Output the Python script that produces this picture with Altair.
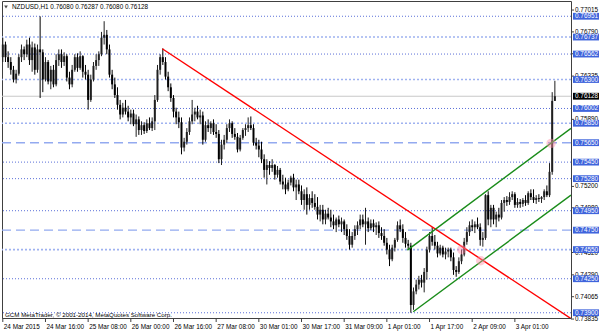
import altair as alt
import pandas as pd

# ---- candle data (pips, divide by 10000) ----
opens = [7653, 7666, 7653, 7648, 7640, 7630, 7636, 7653, 7661, 7656,
         7666, 7650, 7663, 7640, 7661, 7658, 7630, 7648, 7628, 7640,
         7625, 7650, 7656, 7648, 7654, 7632, 7625, 7640, 7653, 7642,
         7654, 7638, 7635, 7609, 7630, 7644, 7650, 7656, 7673, 7676,
         7661, 7635, 7625, 7614, 7604, 7594, 7601, 7597, 7591, 7595,
         7584, 7589, 7578, 7583, 7577, 7585, 7580, 7587, 7609, 7640,
         7653, 7648, 7633, 7622, 7611, 7597, 7591, 7586, 7560, 7566,
         7576, 7587, 7594, 7597, 7591, 7593, 7568, 7583, 7580, 7585,
         7576, 7574, 7548, 7563, 7568, 7580, 7585, 7574, 7571, 7558,
         7570, 7578, 7580, 7583, 7580, 7565, 7562, 7558, 7548, 7537,
         7542, 7539, 7542, 7532, 7537, 7525, 7522, 7517, 7524, 7529,
         7519, 7522, 7515, 7506, 7512, 7501, 7508, 7503, 7499, 7491,
         7496, 7486, 7492, 7488, 7484, 7480, 7486, 7481, 7484, 7476,
         7469, 7460, 7469, 7476, 7480, 7486, 7481, 7484, 7477, 7482,
         7478, 7480, 7472, 7469, 7462, 7455, 7445, 7457, 7465, 7480,
         7476, 7467, 7461, 7459, 7398, 7412, 7419, 7424, 7421, 7432,
         7455, 7469, 7463, 7459, 7451, 7457, 7450, 7453, 7455, 7447,
         7434, 7432, 7443, 7450, 7463, 7473, 7480, 7478, 7481, 7478,
         7465, 7467, 7511, 7486, 7498, 7486, 7491, 7488, 7503, 7506,
         7504, 7509, 7512, 7501, 7504, 7502, 7506, 7503, 7513, 7509,
         7506, 7508, 7507, 7509, 7515, 7511, 7535, 7608]
highs = [7673, 7669, 7659, 7653, 7644, 7640, 7656, 7666, 7664, 7671,
         7673, 7669, 7667, 7666, 7695, 7661, 7653, 7650, 7644, 7645,
         7656, 7661, 7661, 7658, 7656, 7638, 7645, 7656, 7657, 7659,
         7655, 7645, 7640, 7635, 7648, 7656, 7659, 7679, 7690, 7681,
         7666, 7640, 7632, 7622, 7609, 7606, 7609, 7603, 7599, 7599,
         7594, 7592, 7587, 7586, 7589, 7591, 7591, 7614, 7645, 7656,
         7662, 7653, 7638, 7626, 7614, 7601, 7597, 7591, 7570, 7580,
         7591, 7609, 7601, 7603, 7599, 7597, 7587, 7589, 7587, 7589,
         7584, 7578, 7568, 7573, 7584, 7589, 7587, 7580, 7575, 7573,
         7580, 7584, 7591, 7592, 7584, 7570, 7568, 7566, 7553, 7548,
         7546, 7548, 7543, 7541, 7539, 7532, 7529, 7527, 7531, 7533,
         7527, 7527, 7521, 7517, 7519, 7512, 7515, 7512, 7509, 7501,
         7501, 7496, 7498, 7496, 7491, 7488, 7490, 7488, 7486, 7481,
         7476, 7473, 7480, 7484, 7491, 7491, 7498, 7488, 7486, 7486,
         7483, 7484, 7478, 7476, 7467, 7460, 7460, 7467, 7484, 7486,
         7481, 7473, 7465, 7462, 7416, 7424, 7428, 7429, 7436, 7458,
         7473, 7478, 7470, 7463, 7460, 7459, 7457, 7457, 7457, 7452,
         7438, 7447, 7455, 7467, 7478, 7484, 7486, 7484, 7488, 7482,
         7473, 7512, 7515, 7501, 7501, 7494, 7498, 7506, 7509, 7510,
         7514, 7515, 7514, 7508, 7507, 7508, 7511, 7515, 7517, 7517,
         7511, 7512, 7510, 7517, 7521, 7544, 7617, 7628.7]
lows = [7648, 7648, 7642, 7635, 7627, 7626, 7634, 7648, 7650, 7653,
        7645, 7638, 7635, 7637, 7611, 7617, 7628, 7625, 7620, 7622,
        7623, 7644, 7642, 7644, 7628, 7620, 7622, 7638, 7638, 7640,
        7632, 7630, 7599, 7607, 7628, 7640, 7644, 7654, 7666, 7656,
        7632, 7620, 7611, 7599, 7589, 7591, 7594, 7587, 7584, 7582,
        7571, 7573, 7573, 7574, 7575, 7578, 7577, 7578, 7607, 7635,
        7645, 7630, 7618, 7607, 7591, 7584, 7580, 7553, 7556, 7563,
        7573, 7584, 7587, 7589, 7584, 7563, 7566, 7576, 7574, 7573,
        7570, 7544, 7542, 7558, 7565, 7576, 7570, 7568, 7555, 7556,
        7568, 7572, 7576, 7578, 7562, 7558, 7550, 7544, 7529, 7522,
        7532, 7535, 7527, 7529, 7522, 7517, 7512, 7515, 7521, 7515,
        7506, 7512, 7501, 7496, 7491, 7496, 7498, 7496, 7486, 7484,
        7481, 7481, 7486, 7478, 7476, 7473, 7478, 7473, 7470, 7465,
        7455, 7457, 7465, 7470, 7476, 7478, 7460, 7473, 7475, 7473,
        7470, 7467, 7465, 7459, 7450, 7438, 7443, 7453, 7463, 7473,
        7462, 7457, 7455, 7390, 7393, 7409, 7414, 7416, 7411, 7424,
        7452, 7459, 7455, 7447, 7449, 7447, 7445, 7447, 7443, 7429,
        7427, 7430, 7440, 7448, 7460, 7469, 7474, 7472, 7476, 7459,
        7458, 7465, 7480, 7478, 7481, 7478, 7484, 7486, 7494, 7500,
        7501, 7506, 7498, 7498, 7498, 7499, 7500, 7501, 7506, 7503,
        7502, 7504, 7503, 7506, 7509, 7509, 7532, 7608]
closes = [7666, 7653, 7648, 7640, 7630, 7636, 7653, 7661, 7656, 7666,
          7650, 7663, 7640, 7661, 7658, 7630, 7648, 7628, 7640, 7625,
          7650, 7656, 7648, 7654, 7632, 7625, 7640, 7653, 7642, 7654,
          7638, 7635, 7609, 7630, 7644, 7650, 7656, 7673, 7676, 7661,
          7635, 7625, 7614, 7604, 7594, 7601, 7597, 7591, 7595, 7584,
          7589, 7578, 7583, 7577, 7585, 7580, 7587, 7609, 7640, 7653,
          7648, 7633, 7622, 7611, 7597, 7591, 7586, 7560, 7566, 7576,
          7587, 7594, 7597, 7591, 7593, 7568, 7583, 7580, 7585, 7576,
          7574, 7548, 7563, 7568, 7580, 7585, 7574, 7571, 7558, 7570,
          7578, 7580, 7583, 7580, 7565, 7562, 7558, 7548, 7537, 7542,
          7539, 7542, 7532, 7537, 7525, 7522, 7517, 7524, 7529, 7519,
          7522, 7515, 7506, 7512, 7501, 7508, 7503, 7499, 7491, 7496,
          7486, 7492, 7488, 7484, 7480, 7486, 7481, 7484, 7476, 7469,
          7460, 7469, 7476, 7480, 7486, 7481, 7484, 7477, 7482, 7478,
          7480, 7472, 7469, 7462, 7455, 7445, 7457, 7465, 7480, 7476,
          7467, 7461, 7459, 7398, 7412, 7419, 7424, 7421, 7432, 7455,
          7469, 7463, 7459, 7451, 7457, 7450, 7453, 7455, 7447, 7434,
          7432, 7443, 7450, 7463, 7473, 7480, 7478, 7481, 7478, 7465,
          7467, 7511, 7486, 7498, 7486, 7491, 7488, 7503, 7506, 7504,
          7509, 7512, 7501, 7504, 7502, 7506, 7503, 7513, 7509, 7506,
          7508, 7507, 7509, 7515, 7511, 7535, 7608, 7612.8]

# ---- horizontal levels ----
levels_dotted = [0.76951, 0.76562, 0.76002, 0.75450, 0.75280, 0.74950, 0.74250, 0.73900]
levels_light = [0.76737, 0.76300, 0.75850, 0.74550]
levels_dashed = [0.75650, 0.74750]
current_price = 0.76128

# ---- price axis labels (those not fully hidden behind level boxes) ----
axis_prices = [0.77015, 0.76790, 0.76565, 0.76335, 0.75890,
               0.75200, 0.74980, 0.74520, 0.74290, 0.74065, 0.73835]

# ---- time axis labels (bar index) ----
time_idx = [0, 16, 32, 48, 64, 80, 96, 112, 128, 144, 160, 176, 192]
time_lbl = ["24 Mar 2015", "24 Mar 16:00", "25 Mar 08:00", "26 Mar 00:00", "26 Mar 16:00",
            "27 Mar 08:00", "30 Mar 01:00", "30 Mar 17:00", "31 Mar 09:00", "1 Apr 01:00",
            "1 Apr 17:00", "2 Apr 09:00", "3 Apr 01:00"]

# ---- drawn objects (bar index, price) ----
red_i = [59.8, 213.05]
red_p = [0.76617, 0.73840]
green_up_i = [151.7, 213.05]
green_up_p = [0.74545, 0.75798]
green_lo_i = [153.9, 213.05]
green_lo_p = [0.73910, 0.75110]
alert_i = [172.1, 179.2, 205.6]
alert_p = [0.74550, 0.74435, 0.75643]

title_text = "NZDUSD,H1  0.76080 0.76287 0.76080 0.76128"
copyright_text = "GCM MetaTrader, \u00a9 2001-2014, MetaQuotes Software Corp."

FONT = "Liberation Sans"
W, H = 569, 317

xs = alt.Scale(domain=[-0.3, 213.05], nice=False, zero=False)
ys = alt.Scale(domain=[0.73846, 0.77108], nice=False, zero=False)

c = pd.DataFrame({"i": list(range(len(opens))),
                  "o": [v / 10000 for v in opens], "h": [v / 10000 for v in highs],
                  "l": [v / 10000 for v in lows], "c": [v / 10000 for v in closes]})
c["dir"] = ["up" if cc >= oo else "down" for oo, cc in zip(c["o"], c["c"])]

X = lambda f: alt.X(f, scale=xs, axis=None)
Y = lambda f: alt.Y(f, scale=ys, axis=None)

def hlines(vals, color, dash, width):
    return alt.Chart(pd.DataFrame({"p": vals})).mark_rule(
        color=color, strokeDash=dash, strokeWidth=width).encode(y=Y("p:Q"))

lv_dot = hlines(levels_dotted, "#5b70d8", [1, 2], 1)
lv_light = hlines(levels_light, "#9fb2f0", [2, 2], 1.6)
lv_dash = hlines(levels_dashed, "#93aaf0", [9, 5], 1.4)
cur_line = alt.Chart(pd.DataFrame({"p": [current_price]})).mark_rule(
    color="#c8c8c8", strokeWidth=1).encode(y=Y("p:Q"))

base = alt.Chart(c)
wicks = base.mark_rule(strokeWidth=1).encode(
    x=X("i:Q"), y=Y("l:Q"), y2="h:Q",
    color=alt.Color("dir:N", scale=alt.Scale(domain=["up", "down"], range=["#202020", "#000000"]), legend=None))
bodies = base.mark_rule(strokeWidth=2, strokeCap="butt").encode(
    x=X("i:Q"), y=Y("o:Q"), y2="c:Q",
    color=alt.Color("dir:N", scale=alt.Scale(domain=["up", "down"], range=["#a4a4a4", "#000000"]), legend=None))

def seg(ii, pp, color):
    return alt.Chart(pd.DataFrame({"i": ii, "p": pp})).mark_line(
        color=color, strokeWidth=1.4, clip=True).encode(x=X("i:Q"), y=Y("p:Q"))

red = seg(red_i, red_p, "#ff0000")
g_up = seg(green_up_i, green_up_p, "#1a8c1a")
g_lo = seg(green_lo_i, green_lo_p, "#1a8c1a")

alerts = alt.Chart(pd.DataFrame({"i": alert_i, "p": alert_p})).mark_circle(
    size=90, color="#ff8fa8", opacity=0.45).encode(x=X("i:Q"), y=Y("p:Q"))

# bottom time axis
tdf = pd.DataFrame({"i": time_idx, "t": time_lbl})
tticks = alt.Chart(tdf).mark_rule(color="#404040").encode(
    x=X("i:Q"), y=alt.value(H), y2=alt.value(H + 4))
tlabels = alt.Chart(tdf).mark_text(
    align="left", baseline="middle", font=FONT, fontSize=6.4, color="#000", dx=1).encode(
    x=X("i:Q"), y=alt.value(H + 9), text="t:N")

# right price axis
adf = pd.DataFrame({"p": axis_prices, "t": [f"{v:.5f}" for v in axis_prices]})
aticks = alt.Chart(adf).mark_rule(color="#404040").encode(
    y=Y("p:Q"), x=alt.value(W), x2=alt.value(W + 3))
alabels = alt.Chart(adf).mark_text(
    align="left", baseline="middle", font=FONT, fontSize=6.4, color="#000").encode(
    y=Y("p:Q"), x=alt.value(W + 4), text="t:N")

all_levels = levels_dotted + levels_light + levels_dashed
ldf = pd.DataFrame({"p": all_levels, "t": [f"{v:.5f}" for v in all_levels]})
boxes = alt.Chart(ldf).transform_calculate(
    lo="datum.p - 0.00035", hi="datum.p + 0.00035").mark_rect(color="#3f64dc").encode(
    y=Y("lo:Q"), y2="hi:Q", x=alt.value(W + 2), x2=alt.value(W + 28))
btext = alt.Chart(ldf).mark_text(
    align="left", baseline="middle", font=FONT, fontSize=6.4, color="#ffffff").encode(
    y=Y("p:Q"), x=alt.value(W + 4), text="t:N")

cdf = pd.DataFrame({"p": [current_price], "t": [f"{current_price:.5f}"]})
cbox = alt.Chart(cdf).transform_calculate(
    lo="datum.p - 0.00035", hi="datum.p + 0.00035").mark_rect(color="#000000").encode(
    y=Y("lo:Q"), y2="hi:Q", x=alt.value(W + 2), x2=alt.value(W + 28))
ctext = alt.Chart(cdf).mark_text(
    align="left", baseline="middle", font=FONT, fontSize=6.4, color="#ffffff").encode(
    y=Y("p:Q"), x=alt.value(W + 4), text="t:N")

tri = alt.Chart(pd.DataFrame({"a": [0]})).mark_point(
    shape="triangle-down", size=14, filled=True, color="#000").encode(
    x=alt.value(4), y=alt.value(6))
ttl = alt.Chart(pd.DataFrame({"t": [title_text]})).mark_text(
    align="left", baseline="middle", font=FONT, fontSize=6.4, color="#000").encode(
    x=alt.value(10), y=alt.value(6), text="t:N")
cpy = alt.Chart(pd.DataFrame({"t": [copyright_text]})).mark_text(
    align="left", baseline="middle", font=FONT, fontSize=6.2, color="#000").encode(
    x=alt.value(3), y=alt.value(H - 3), text="t:N")

chart = alt.layer(
    lv_dot, lv_light, lv_dash, cur_line, wicks, bodies, red, g_up, g_lo, alerts,
    tticks, tlabels, aticks, alabels, boxes, btext, cbox, ctext, tri, ttl, cpy
).properties(
    width=W, height=H,
    autosize=alt.AutoSizeParams(type="none"),
    padding={"left": 2, "top": 1, "right": 29, "bottom": 15},
    background="#ffffff",
).configure_view(stroke="#404040", strokeWidth=1)

chart.save("out.html", embed_options={"renderer": "svg", "actions": False})
